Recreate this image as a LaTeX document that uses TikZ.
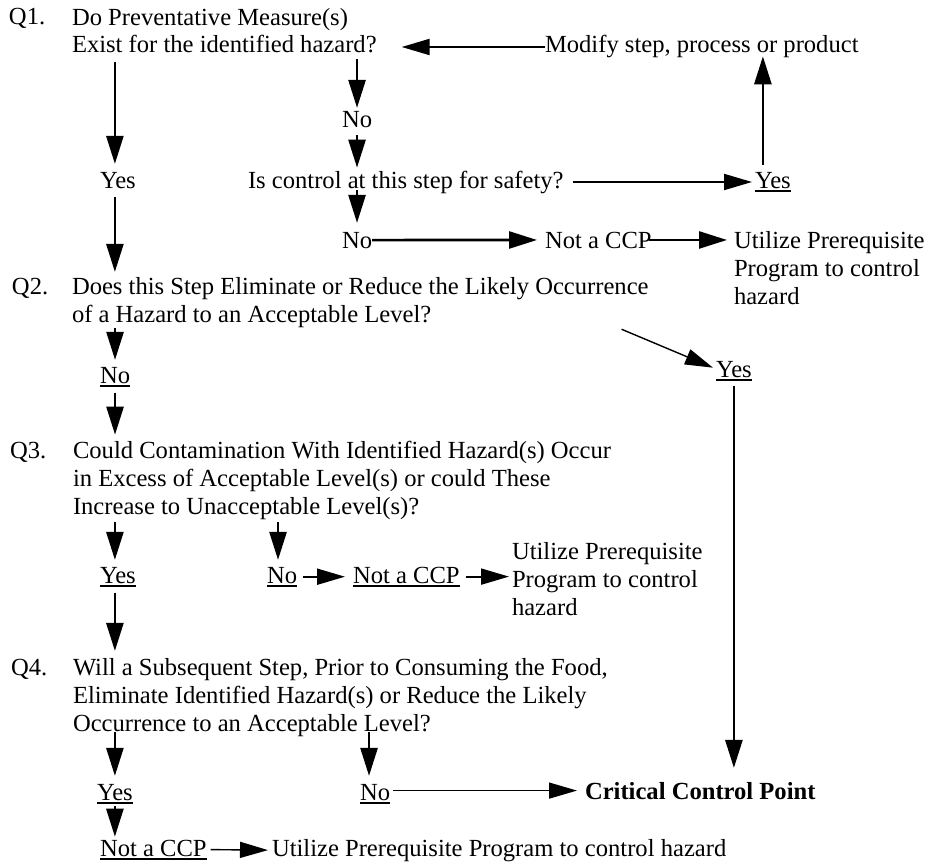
\documentclass[tikz,border=0pt]{standalone}
\usepackage{fontspec}
\setmainfont{Liberation Serif}
\usetikzlibrary{arrows.meta}
\newcommand{\ulbox}[1]{\setbox0=\hbox{#1}\rlap{\rule[-3.5pt]{\wd0}{1.2pt}}\box0}
\begin{document}
\begin{tikzpicture}[x=1pt,y=-1pt,
  every node/.style={inner sep=0pt, outer sep=0pt, anchor=base west, font=\fontsize{24.6pt}{28pt}\selectfont},
  txt/.style={align=left},
  arr/.style={line width=2.6pt, -{Triangle[length=28pt,width=17pt]}},
  midarr/.style={line width=2pt, -{Triangle[length=28pt,width=16pt]}},
  thinarr/.style={line width=1.4pt, -{Triangle[length=28pt,width=16pt]}}]
\useasboundingbox (0,0) rectangle (927,867);
% nodes (multi-line nodes are placed by the baseline of their last line)
\node (q1n) at (9,25) {Q1.};
\node[txt] (q1) at (72,53) {Do Preventative Measure(s)\\Exist for the identified hazard?};
\node (mod) at (545,53) {Modify step, process or product};
\node (no1) at (342,128) {No};
\node (yes1) at (100,188) {Yes};
\node (ctl) at (248,188) {Is control at this step for safety?};
\node (yes2) at (755,188) {\ulbox{Yes}};
\node (no2) at (342,248) {No};
\node (ncp1) at (545,248) {Not a CCP};
\node[txt] (upp1) at (734,304) {Utilize Prerequisite\\Program to control\\hazard};
\node (q2n) at (12,294) {Q2.};
\node[txt] (q2) at (72,322) {Does this Step Eliminate or Reduce the Likely Occurrence\\of a Hazard to an Acceptable Level?};
\node (yes3) at (716,377) {\ulbox{Yes}};
\node (no3) at (100,383) {\ulbox{No}};
\node (q3n) at (10,458) {Q3.};
\node[txt] (q3) at (73,514) {Could Contamination With Identified Hazard(s) Occur\\in Excess of Acceptable Level(s) or could These\\Increase to Unacceptable Level(s)?};
\node (yes4) at (100,583) {\ulbox{Yes}};
\node (no4) at (267,583) {\ulbox{No}};
\node (ncp2) at (353,583) {\ulbox{Not a CCP}};
\node[txt] (upp2) at (512,615) {Utilize Prerequisite\\Program to control\\hazard};
\node (q4n) at (11,675) {Q4.};
\node[txt] (q4) at (73,731) {Will a Subsequent Step, Prior to Consuming the Food,\\Eliminate Identified Hazard(s) or Reduce the Likely\\Occurrence to an Acceptable Level?};
\node (yes5) at (97,800) {\ulbox{Yes}};
\node (no5) at (360,800) {\ulbox{No}};
\node (ccp) at (585,799) {\textbf{Critical Control Point}};
\node (ncp3) at (100,856) {\ulbox{Not a CCP}};
\node (upp3) at (272,856) {Utilize Prerequisite Program to control hazard};
% connectors
\draw[midarr] (mod.west) -- ([xshift=25pt]q1.east |- mod.west);
\draw[arr] ([xshift=-3pt,yshift=-9pt]yes1.north |- q1.south) -- ([xshift=-3pt,yshift=8pt]yes1.north);
\draw[arr] ([xshift=-3pt,yshift=-9pt]yes1.south) -- ([xshift=-3pt,yshift=5pt]yes1.south |- q2.north);
\draw[arr] ([yshift=-6pt]no1.north |- q1.south) -- ([yshift=4pt]no1.north);
\draw[arr] ([yshift=-7pt]no1.south) -- ([yshift=3pt]no1.south |- ctl.north);
\draw[arr] ([yshift=3pt]no2.north |- ctl.south) -- ([yshift=9pt]no2.north);
\draw[midarr] ([xshift=9pt]ctl.east) -- ([xshift=-3pt]yes2.west |- ctl.east);
\draw[arr] ([xshift=-10pt,yshift=7pt]yes2.north) -- ([xshift=-10pt,yshift=2pt]yes2.north |- mod.south);
\draw[arr] (no2.east) -- ([xshift=-8pt]ncp1.west);
\draw[arr] ([xshift=-3pt]ncp1.east) -- ([xshift=-7pt]upp1.west |- ncp1.east);
\draw[arr] ([yshift=-1pt]no3.north |- q2.south) -- ([yshift=7pt]no3.north);
\draw[arr] ([yshift=-6pt]no3.south) -- ([yshift=6pt]no3.south |- q3.north);
\draw[thinarr] ([xshift=-27pt,yshift=-2pt]q2.south east) -- ([xshift=-3pt,yshift=3pt]yes3.west);
\draw[arr] ([yshift=-5pt]yes3.south) -- ([yshift=14pt]yes3.south |- ccp.north);
\draw[arr] ([xshift=-3pt,yshift=-3pt]yes4.north |- q3.south) -- ([xshift=-3pt,yshift=7pt]yes4.north);
\draw[arr] ([xshift=-4pt,yshift=-3pt]no4.north |- q3.south) -- ([xshift=-4pt,yshift=7pt]no4.north);
\draw[arr] ([xshift=-3pt,yshift=-6pt]yes4.south) -- ([xshift=-3pt,yshift=7pt]yes4.south |- q4.north);
\draw[midarr] ([xshift=6pt]no4.east) -- ([xshift=-8pt]ncp2.west |- no4.east);
\draw[midarr] ([xshift=6pt]ncp2.east) -- ([xshift=-3pt]upp2.west |- ncp2.east);
\draw[arr] ([yshift=4pt]yes5.north |- q4.south) -- ([yshift=8pt]yes5.north);
\draw[arr] ([xshift=-6pt,yshift=4pt]no5.north |- q4.south) -- ([xshift=-6pt,yshift=8pt]no5.north);
\draw[thinarr] ([xshift=3pt]no5.east |- ccp.west) -- ([xshift=-8pt]ccp.west);
\draw[arr] ([yshift=-2pt]yes5.south) -- ([yshift=3pt]yes5.south |- ncp3.north);
\draw[thinarr] ([xshift=4pt]ncp3.east) -- ([xshift=-4pt]upp3.west);
\end{tikzpicture}
\end{document}
